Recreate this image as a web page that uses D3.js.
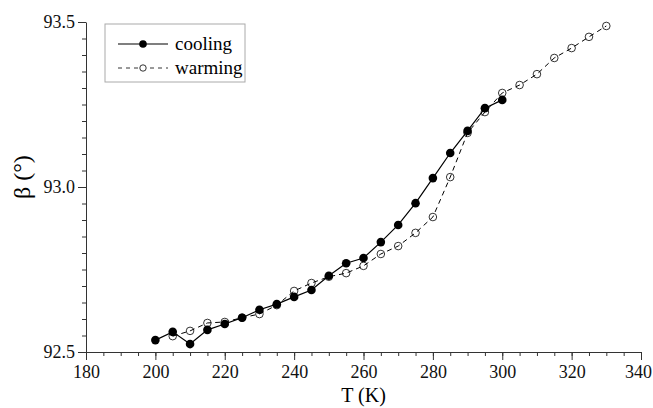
<!DOCTYPE html>
<html>
<head>
<meta charset="utf-8">
<script src="https://cdn.jsdelivr.net/npm/d3@7"></script>
<style>
  body { margin: 0; background: #fff; }
</style>
</head>
<body>
<div id="graph"></div>
<script>
// data
const coolT = [200, 205, 210, 215, 220, 225, 230, 235, 240, 245, 250, 255, 260, 265, 270, 275, 280, 285, 290, 295, 300];
const coolBeta = [92.536, 92.561, 92.524, 92.567, 92.585, 92.604, 92.628, 92.645, 92.667, 92.688, 92.731, 92.769, 92.785, 92.833, 92.885, 92.951, 93.027, 93.103, 93.170, 93.239, 93.264];
const warmT = [205, 210, 215, 220, 225, 230, 235, 240, 245, 250, 255, 260, 265, 270, 275, 280, 285, 290, 295, 300, 305, 310, 315, 320, 325, 330];
const warmBeta = [92.548, 92.564, 92.588, 92.591, 92.604, 92.615, 92.642, 92.685, 92.709, 92.728, 92.739, 92.761, 92.797, 92.821, 92.861, 92.909, 93.030, 93.164, 93.227, 93.285, 93.309, 93.342, 93.391, 93.421, 93.455, 93.488];
const xTicks = [180, 200, 220, 240, 260, 280, 300, 320, 340];
const yTicks = [92.5, 93.0, 93.5];

const width = 653, height = 408;
const margin = {left: 86, right: 12, top: 22, bottom: 56};
const serif = "'Liberation Serif', 'Times New Roman', serif";

let svg = d3.select("#graph")
    .append("svg")
    .attr("width", width)
    .attr("height", height)
    .attr("font-family", serif);

let x = d3.scaleLinear()
    .domain([180, 340])
    .range([margin.left, width - margin.right]);
let y = d3.scaleLinear()
    .domain([92.5, 93.5])
    .range([height - margin.bottom, margin.top]);

const axisColor = "#333";

// minor ticks first, then major with labels
svg.append("g")
    .attr("transform", `translate(0,${height - margin.bottom})`)
    .call(d3.axisBottom(x).tickValues(d3.range(180, 341, 5)).tickSize(4).tickFormat(""))
    .call(g => g.select(".domain").remove())
    .selectAll("line").attr("stroke", axisColor);
let xAxis = svg.append("g")
    .attr("transform", `translate(0,${height - margin.bottom})`)
    .call(d3.axisBottom(x).tickValues(xTicks).tickSize(8).tickSizeOuter(0).tickPadding(5).tickFormat(d3.format("d")))
    .attr("font-family", serif);
xAxis.selectAll("line").attr("stroke", axisColor);
xAxis.select(".domain").attr("stroke", axisColor);
xAxis.selectAll("text").attr("font-size", 18).attr("fill", "#111");
// keep the last label inside the window
xAxis.selectAll("text").filter(d => d === 340).attr("dx", "-3");

svg.append("g")
    .attr("transform", `translate(${margin.left},0)`)
    .call(d3.axisLeft(y).tickValues(d3.range(0, 21).map(i => 92.5 + i * 0.05)).tickSize(4).tickFormat(""))
    .call(g => g.select(".domain").remove())
    .selectAll("line").attr("stroke", axisColor);
let yAxis = svg.append("g")
    .attr("transform", `translate(${margin.left},0)`)
    .call(d3.axisLeft(y).tickValues(yTicks).tickSize(8).tickSizeOuter(0).tickPadding(3).tickFormat(d3.format(".1f")))
    .attr("font-family", serif);
yAxis.selectAll("line").attr("stroke", axisColor);
yAxis.select(".domain").attr("stroke", axisColor);
yAxis.selectAll("text").attr("font-size", 18).attr("fill", "#111");

// axis titles
svg.append("text")
    .attr("x", x(260))
    .attr("y", height - 6)
    .style("text-anchor", "middle")
    .attr("font-size", 20)
    .text("T (K)");
svg.append("text")
    .attr("transform", `translate(30,${y(93.03)}) rotate(-90)`)
    .style("text-anchor", "middle")
    .attr("font-size", 24)
    .text("β (°)");

let cool = coolT.map((t, i) => ({t: t, b: coolBeta[i]}));
let warm = warmT.map((t, i) => ({t: t, b: warmBeta[i]}));
let line = d3.line().x(d => x(d.t)).y(d => y(d.b));

// warming: dashed + open circles
svg.append("path")
    .datum(warm)
    .attr("d", line)
    .attr("fill", "none")
    .attr("stroke", "#000")
    .attr("stroke-width", 1)
    .attr("stroke-dasharray", "5,4");
svg.append("g").selectAll("circle")
    .data(warm)
    .enter()
    .append("circle")
    .attr("cx", d => x(d.t))
    .attr("cy", d => y(d.b))
    .attr("r", 3.8)
    .attr("fill", "none")
    .attr("stroke", "#000")
    .attr("stroke-width", 0.8);

// cooling: solid + filled circles
svg.append("path")
    .datum(cool)
    .attr("d", line)
    .attr("fill", "none")
    .attr("stroke", "#000")
    .attr("stroke-width", 1.2);
svg.append("g").selectAll("circle")
    .data(cool)
    .enter()
    .append("circle")
    .attr("cx", d => x(d.t))
    .attr("cy", d => y(d.b))
    .attr("r", 4.3)
    .attr("fill", "#000");

// legend
let legend = svg.append("g");
legend.append("rect")
    .attr("x", 105).attr("y", 24)
    .attr("width", 140).attr("height", 58)
    .attr("fill", "#fff")
    .attr("stroke", "#aaa")
    .attr("stroke-width", 1);
legend.append("line")
    .attr("x1", 118).attr("x2", 168).attr("y1", 44).attr("y2", 44)
    .attr("stroke", "#000").attr("stroke-width", 1.2);
legend.append("circle")
    .attr("cx", 143).attr("cy", 44).attr("r", 3.8).attr("fill", "#000");
legend.append("text")
    .attr("x", 175).attr("y", 50)
    .attr("font-size", 19)
    .text("cooling");
legend.append("line")
    .attr("x1", 118).attr("x2", 168).attr("y1", 68).attr("y2", 68)
    .attr("stroke", "#000").attr("stroke-width", 0.8)
    .attr("stroke-dasharray", "4,4");
legend.append("circle")
    .attr("cx", 143).attr("cy", 68).attr("r", 3.2)
    .attr("fill", "#fff").attr("stroke", "#000").attr("stroke-width", 0.8);
legend.append("text")
    .attr("x", 175).attr("y", 74)
    .attr("font-size", 19)
    .text("warming");
</script>
</body>
</html>
